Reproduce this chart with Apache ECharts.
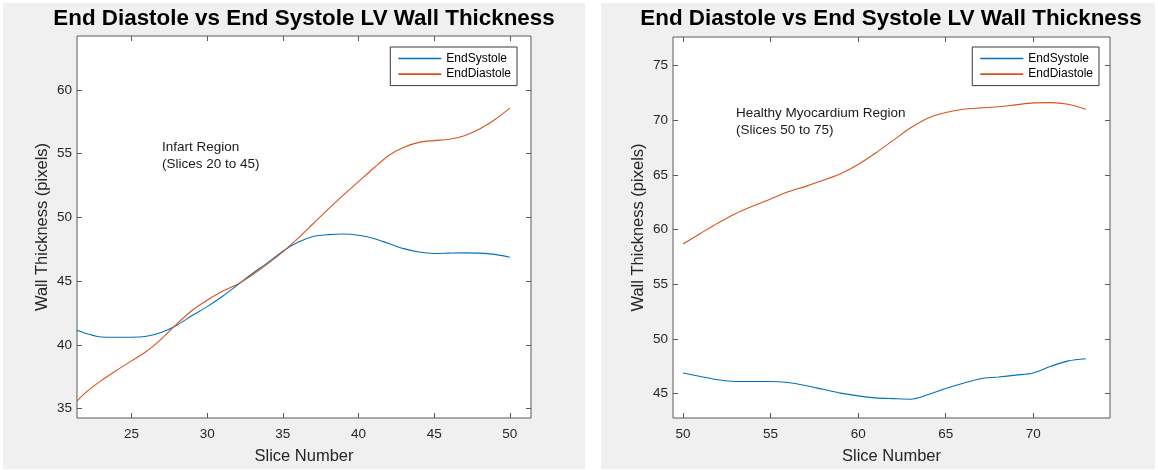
<!DOCTYPE html>
<html>
<head>
<meta charset="utf-8">
<script src="https://cdn.jsdelivr.net/npm/echarts@6/dist/echarts.min.js"></script>
<style>
  html, body { margin: 0; padding: 0; background: #ffffff; }
  #chart { width: 1158px; height: 470px; }
</style>
</head>
<body>
<div id="chart"></div>
<script>
// Infarct region: slice numbers and wall thickness (pixels)
const infarctSlices = [21.4, 22, 23, 24, 25, 26, 27, 28, 29, 30, 31, 32, 33, 34, 35, 36, 37, 38, 39, 40, 41, 42, 43, 44, 45, 46, 47, 48, 49, 50];
const infarctSystole = [41.15, 40.9, 40.62, 40.6, 40.6, 40.68, 41.0, 41.55, 42.3, 43.0, 43.8, 44.7, 45.6, 46.45, 47.35, 48.05, 48.5, 48.65, 48.7, 48.6, 48.35, 47.95, 47.55, 47.28, 47.17, 47.2, 47.22, 47.2, 47.1, 46.88];
const infarctDiastole = [35.6, 36.3, 37.2, 38.0, 38.75, 39.5, 40.5, 41.65, 42.7, 43.5, 44.2, 44.75, 45.5, 46.35, 47.3, 48.35, 49.5, 50.65, 51.75, 52.8, 53.85, 54.85, 55.5, 55.88, 56.02, 56.12, 56.4, 56.92, 57.65, 58.56];

// Healthy myocardium region
const healthySlices = [50, 51, 52, 53, 54, 55, 56, 57, 58, 59, 60, 61, 62, 63, 64, 65, 66, 67, 68, 69, 70, 71, 72, 73];
const healthySystole = [46.89, 46.58, 46.27, 46.12, 46.12, 46.12, 46.02, 45.75, 45.4, 45.05, 44.8, 44.62, 44.55, 44.5, 44.92, 45.47, 45.95, 46.37, 46.52, 46.7, 46.9, 47.5, 48.0, 48.2];
const healthyDiastole = [58.68, 59.65, 60.6, 61.45, 62.15, 62.8, 63.45, 63.95, 64.5, 65.1, 65.95, 67.0, 68.15, 69.3, 70.2, 70.7, 71.0, 71.12, 71.22, 71.4, 71.58, 71.6, 71.45, 71.0];

// Tick labels
const infarctXTicks = [25, 30, 35, 40, 45, 50];
const infarctYTicks = [35, 40, 45, 50, 55, 60];
const healthyXTicks = [50, 55, 60, 65, 70];
const healthyYTicks = [45, 50, 55, 60, 65, 70, 75];

const seriesNames = ['EndSystole', 'EndDiastole'];
const titleText = 'End Diastole vs End Systole LV Wall Thickness';

const FONT = '"Liberation Sans", Arial, Helvetica, sans-serif';
const BLUE = '#0072BD';
const ORANGE = '#D95319';
const AXIS = '#5a5a5a';
const TICKTXT = '#262626';

function pairs(xs, ys) { return xs.map((x, i) => [x, ys[i]]); }

function bottomAxis(grid, min, max, ticks) {
  return {
    type: 'value', gridIndex: grid, position: 'bottom', min: min, max: max,
    name: 'Slice Number', nameLocation: 'middle', nameGap: 30,
    nameTextStyle: { fontFamily: FONT, fontSize: 16.5, color: TICKTXT },
    axisLine: { show: false },
    splitLine: { show: false },
    axisTick: { inside: true, length: 5, customValues: ticks, lineStyle: { color: AXIS } },
    axisLabel: { customValues: ticks, fontFamily: FONT, fontSize: 13.5, color: TICKTXT, margin: 9 }
  };
}
function topAxis(grid, min, max, ticks) {
  return {
    type: 'value', gridIndex: grid, position: 'top', min: min, max: max,
    axisLine: { show: false }, splitLine: { show: false },
    axisTick: { inside: true, length: 5, customValues: ticks, lineStyle: { color: AXIS } },
    axisLabel: { show: false }
  };
}
function leftAxis(grid, min, max, ticks) {
  return {
    type: 'value', gridIndex: grid, position: 'left', min: min, max: max,
    name: 'Wall Thickness (pixels)', nameLocation: 'middle', nameGap: 26,
    nameTextStyle: { fontFamily: FONT, fontSize: 16.5, color: TICKTXT },
    axisLine: { show: false }, splitLine: { show: false },
    axisTick: { inside: true, length: 5, customValues: ticks, lineStyle: { color: AXIS } },
    axisLabel: { customValues: ticks, fontFamily: FONT, fontSize: 13.5, color: TICKTXT, margin: 5 }
  };
}
function rightAxis(grid, min, max, ticks) {
  return {
    type: 'value', gridIndex: grid, position: 'right', min: min, max: max,
    axisLine: { show: false }, splitLine: { show: false },
    axisTick: { inside: true, length: 5, customValues: ticks, lineStyle: { color: AXIS } },
    axisLabel: { show: false }
  };
}
function lineSeries(name, color, axisIdx, data) {
  return {
    name: name, type: 'line', xAxisIndex: axisIdx, yAxisIndex: axisIdx,
    data: data, smooth: 0.3, symbol: 'none', showSymbol: false,
    lineStyle: { color: color, width: 1.1 }, itemStyle: { color: color },
    emphasis: { disabled: true }, animation: false
  };
}
function legendBox(right) {
  return {
    data: seriesNames, orient: 'vertical', right: right, top: 47,
    icon: 'rect', itemWidth: 43, itemHeight: 1.6, itemGap: 2.6,
    padding: [5, 6, 5, 8], borderColor: '#3a3a3a', borderWidth: 1,
    backgroundColor: '#ffffff',
    textStyle: { fontFamily: FONT, fontSize: 12, color: '#000', lineHeight: 13 },
    selectedMode: false
  };
}

const chart = echarts.init(document.getElementById('chart'), null, { renderer: 'canvas' });

chart.setOption({
  backgroundColor: '#ffffff',
  animation: false,
  title: [
    { text: titleText, left: 304, top: 8, textAlign: 'center', padding: 0,
      textStyle: { fontFamily: FONT, fontSize: 22.4, fontWeight: 'bold', color: '#000' } },
    { text: titleText, left: 891, top: 8, textAlign: 'center', padding: 0,
      textStyle: { fontFamily: FONT, fontSize: 22.4, fontWeight: 'bold', color: '#000' } }
  ],
  legend: [legendBox(641), legendBox(59)],
  grid: [
    { left: 77, top: 36, right: 627, bottom: 51, show: true, backgroundColor: '#ffffff', borderColor: AXIS, borderWidth: 1 },
    { left: 673, top: 37, right: 48, bottom: 51, show: true, backgroundColor: '#ffffff', borderColor: AXIS, borderWidth: 1 }
  ],
  xAxis: [
    bottomAxis(0, 21.4, 51.4, infarctXTicks),
    bottomAxis(1, 49.43, 74.38, healthyXTicks),
    topAxis(0, 21.4, 51.4, infarctXTicks),
    topAxis(1, 49.43, 74.38, healthyXTicks)
  ],
  yAxis: [
    leftAxis(0, 34.27, 64.22, infarctYTicks),
    leftAxis(1, 42.78, 77.6, healthyYTicks),
    rightAxis(0, 34.27, 64.22, infarctYTicks),
    rightAxis(1, 42.78, 77.6, healthyYTicks)
  ],
  graphic: [
    // figure panels
    { type: 'rect', z: -10, silent: true, shape: { x: 3, y: 3, width: 582, height: 466 }, style: { fill: '#f0f0f0' } },
    { type: 'rect', z: -10, silent: true, shape: { x: 601, y: 3, width: 554, height: 466 }, style: { fill: '#f0f0f0' } },
    // region annotations
    { type: 'text', z: 50, left: 162, top: 138, silent: true,
      style: { text: 'Infart Region\n(Slices 20 to 45)', font: '13.5px ' + FONT, fill: '#1a1a1a', lineHeight: 17.6 } },
    { type: 'text', z: 50, left: 736, top: 105, silent: true,
      style: { text: 'Healthy Myocardium Region\n(Slices 50 to 75)', font: '13.5px ' + FONT, fill: '#1a1a1a', lineHeight: 16.8 } }
  ],
  series: [
    lineSeries(seriesNames[0], BLUE, 0, pairs(infarctSlices, infarctSystole)),
    lineSeries(seriesNames[1], ORANGE, 0, pairs(infarctSlices, infarctDiastole)),
    lineSeries(seriesNames[0], BLUE, 1, pairs(healthySlices, healthySystole)),
    lineSeries(seriesNames[1], ORANGE, 1, pairs(healthySlices, healthyDiastole))
  ]
});
</script>
</body>
</html>
